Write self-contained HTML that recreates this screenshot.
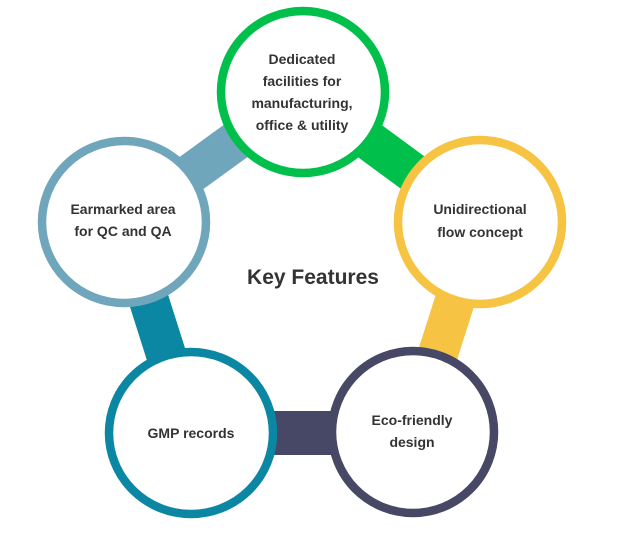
<!DOCTYPE html>
<html><head><meta charset="utf-8"><style>
html,body{margin:0;padding:0;background:#fff;}
svg{display:block;}
text{font-family:"Liberation Sans",sans-serif;font-weight:bold;fill:#333;text-anchor:middle;}
</style></head><body>
<svg width="619" height="533" viewBox="0 0 619 533" xmlns="http://www.w3.org/2000/svg">
<line x1="124" y1="222" x2="303" y2="92" stroke="#70a6bc" stroke-width="40"/>
<line x1="303" y1="92" x2="480" y2="222" stroke="#00c04b" stroke-width="40"/>
<line x1="480" y1="222" x2="413" y2="432" stroke="#f6c342" stroke-width="40"/>
<line x1="413" y1="433" x2="191" y2="433" stroke="#474766" stroke-width="44"/>
<line x1="191" y1="433" x2="124" y2="222" stroke="#0b87a4" stroke-width="40"/>
<ellipse cx="303" cy="92" rx="82" ry="81" fill="#fff" stroke="#00c04b" stroke-width="8.5"/>
<ellipse cx="480" cy="222" rx="82" ry="82" fill="#fff" stroke="#f6c342" stroke-width="8.5"/>
<ellipse cx="124" cy="222" rx="82" ry="81" fill="#fff" stroke="#70a6bc" stroke-width="8.5"/>
<ellipse cx="191" cy="433" rx="82" ry="81" fill="#fff" stroke="#0b87a4" stroke-width="8.5"/>
<ellipse cx="413" cy="432" rx="81" ry="81" fill="#fff" stroke="#474766" stroke-width="8.5"/>
<g font-size="14">
<text x="302" y="64">Dedicated</text>
<text x="302" y="86">facilities for</text>
<text x="302" y="108">manufacturing,</text>
<text x="302" y="130">office &amp; utility</text>
<text x="480" y="214">Unidirectional</text>
<text x="480" y="237">flow concept</text>
<text x="123" y="214">Earmarked area</text>
<text x="123" y="236">for QC and QA</text>
<text x="191" y="438">GMP records</text>
<text x="412" y="425">Eco-friendly</text>
<text x="412" y="447">design</text>
</g>
<text x="313" y="284" font-size="21">Key Features</text>
</svg>
</body></html>
